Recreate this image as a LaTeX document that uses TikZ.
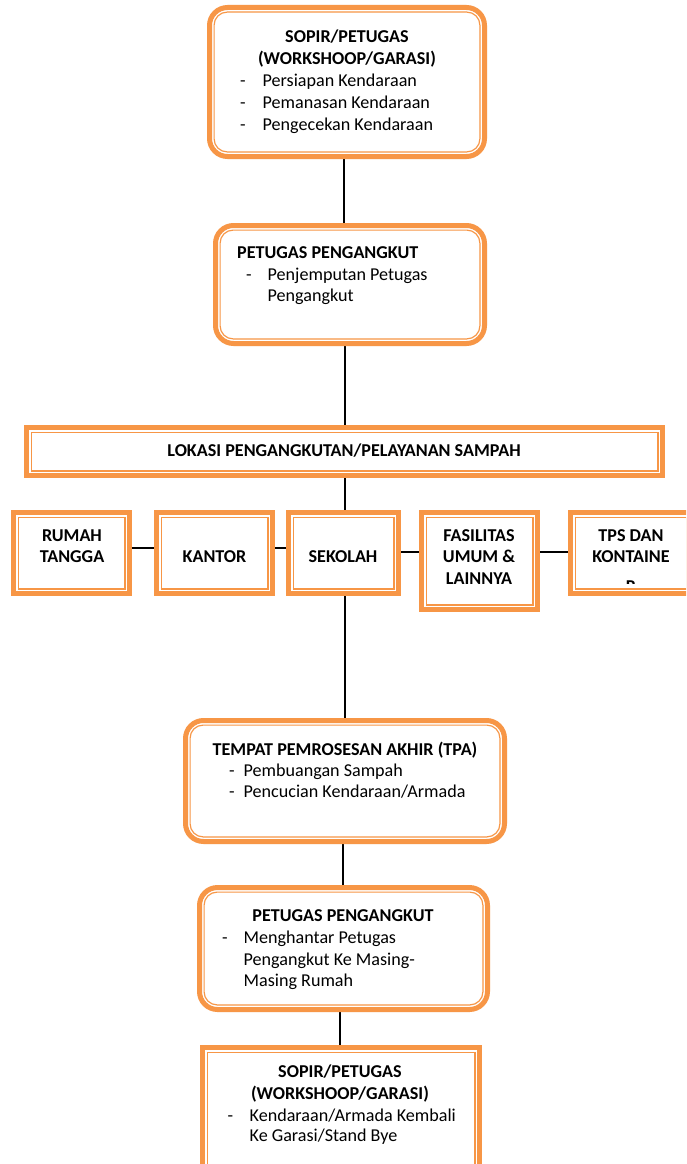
\documentclass[tikz,border=0pt]{standalone}
\usepackage{fontspec}
\setmainfont{Carlito}
\usetikzlibrary{calc,backgrounds}
\definecolor{orng}{HTML}{F79646}
\newcommand\dfont{\fontsize{18.1}{21.7}\selectfont}
\newcommand\inbox[2]{\draw[inl,#2] ($(#1.south west)+(4.6,-4.6)$) rectangle ($(#1.north east)+(-4.6,4.6)$);}
\begin{document}
\begin{tikzpicture}[x=1pt,y=-1pt,
  box/.style={draw=orng, line width=5pt, fill=white, inner sep=0pt, outer sep=0pt},
  rbox/.style={box, rounded corners=18pt},
  inl/.style={draw=orng, line width=1.2pt},
  conn/.style={draw=black, line width=2pt},
  txt/.style={inner sep=0pt, anchor=base west, font=\dfont},
  btxt/.style={inner sep=0pt, anchor=base west, font=\dfont\bfseries},
  ttl/.style={inner sep=0pt, anchor=base, font=\dfont\bfseries},
]
\useasboundingbox (0,0) rectangle (686,1164);
\clip (0,0) rectangle (686,1164);

% boxes
\node[rbox, minimum width=275pt, minimum height=149pt] (b1) at (347,82) {};
\inbox{b1}{rounded corners=13pt}
\node[rbox, minimum width=269pt, minimum height=118pt] (b2) at (350,284.5) {};
\inbox{b2}{rounded corners=13pt}
\node[box, minimum width=636pt, minimum height=48pt] (lok) at (344.5,451.5) {};
\inbox{lok}{sharp corners}
\node[box, minimum width=116pt, minimum height=81pt] (rum) at (71.5,553) {};
\inbox{rum}{sharp corners}
\node[box, minimum width=116pt, minimum height=81pt] (kan) at (214.5,553) {};
\inbox{kan}{sharp corners}
\node[box, minimum width=110pt, minimum height=81pt] (sek) at (343.5,553) {};
\inbox{sek}{sharp corners}
\node[box, minimum width=116pt, minimum height=97pt] (fas) at (479.5,561) {};
\inbox{fas}{sharp corners}
\node[box, minimum width=121pt, minimum height=81pt] (tps) at (631,553) {};
\inbox{tps}{sharp corners}
\node[rbox, minimum width=319pt, minimum height=121pt] (tpa) at (345,781) {};
\inbox{tpa}{rounded corners=13pt}
\node[rbox, minimum width=288pt, minimum height=122pt] (pp) at (343.5,948.5) {};
\inbox{pp}{rounded corners=13pt}
\node[box, minimum width=277pt, minimum height=130pt] (bot) at (341,1112.5) {};
\inbox{bot}{sharp corners}

% texts box 1
\node[ttl] (b1t) at (347,43) {SOPIR/PETUGAS};
\node[ttl] (b1u) at (347,64) {(WORKSHOOP/GARASI)};
\node[txt] (b1d1) at (240,86) {-};
\node[txt] (b1i1) at (262.5,86) {Persiapan Kendaraan};
\node[txt] (b1d2) at (240,108) {-};
\node[txt] (b1i2) at (262.5,108) {Pemanasan Kendaraan};
\node[txt] (b1d3) at (240,130) {-};
\node[txt] (b1i3) at (262.5,130) {Pengecekan Kendaraan};

% texts box 2
\node[btxt] (b2t) at (237,258) {PETUGAS PENGANGKUT};
\node[txt] (b2d1) at (246,280) {-};
\node[txt] (b2i1) at (267.5,280) {Penjemputan Petugas};
\node[txt] (b2i2) at (267.5,301.7) {Pengangkut};

% lokasi
\node[ttl] (lokt) at (344,456) {LOKASI PENGANGKUTAN/PELAYANAN SAMPAH};

% row
\node[ttl] (rumt1) at (72,541.7) {RUMAH};
\node[ttl] (rumt2) at (72,562.7) {TANGGA};
\node[ttl] (kant) at (214.5,562.7) {KANTOR};
\node[ttl] (sekt) at (343,562.7) {SEKOLAH};
\node[ttl] (fast1) at (479,541.7) {FASILITAS};
\node[ttl] (fast2) at (479,562.7) {UMUM \&};
\node[ttl] (fast3) at (479,584.5) {LAINNYA};
\node[ttl] (tpst1) at (631,541.7) {TPS DAN};
\node[ttl] (tpst2) at (631,562.7) {KONTAINE};
\begin{scope}
\clip (570,570) rectangle (690,583.5);
\node[ttl] (tpst3) at (631,592) {R};
\end{scope}

% tpa
\node[ttl] (tpat) at (345,755) {TEMPAT PEMROSESAN AKHIR (TPA)};
\node[txt] (tpad1) at (229,776) {-};
\node[txt] (tpai1) at (243.5,776) {Pembuangan Sampah};
\node[txt] (tpad2) at (229,797.7) {-};
\node[txt] (tpai2) at (243.5,797.7) {Pencucian Kendaraan/Armada};

% petugas 2
\node[ttl] (ppt) at (343,921.7) {PETUGAS PENGANGKUT};
\node[txt] (ppd1) at (222,943.5) {-};
\node[txt] (ppi1) at (243.5,943.5) {Menghantar Petugas};
\node[txt] (ppi2) at (243.5,965) {Pengangkut Ke Masing-};
\node[txt] (ppi3) at (243.5,986.7) {Masing Rumah};

% bottom
\node[ttl] (bott) at (340,1077.5) {SOPIR/PETUGAS};
\node[ttl] (botu) at (340,1099.3) {(WORKSHOOP/GARASI)};
\node[txt] (botd1) at (227.5,1121.3) {-};
\node[txt] (boti1) at (249.5,1121.3) {Kendaraan/Armada Kembali};
\node[txt] (boti2) at (249.5,1141.7) {Ke Garasi/Stand Bye};

% connectors
\coordinate (xa) at (344.3,0);
\coordinate (xb) at (345,0);
\coordinate (xc) at (343,0);
\coordinate (xd) at (340,0);
\coordinate (ya) at (0,548.3);
\coordinate (yb) at (0,552.3);
\begin{scope}[on background layer]
\fill[white] (0,0) rectangle (686,1164);
\draw[conn] (b1.south -| xa) -- (b2.north -| xa);
\draw[conn] (b2.south -| xb) -- (lok.north -| xb);
\draw[conn] (lok.south -| xb) -- (sek.north -| xb);
\draw[conn] (sek.south -| xb) -- (tpa.north -| xb);
\draw[conn] (tpa.south -| xc) -- (pp.north -| xc);
\draw[conn] (pp.south -| xd) -- (bot.north -| xd);
\draw[conn] (rum.east |- ya) -- (kan.west |- ya);
\draw[conn] (kan.east |- ya) -- (sek.west |- ya);
\draw[conn] (sek.east |- yb) -- (fas.west |- yb);
\draw[conn] (fas.east |- yb) -- (tps.west |- yb);
\end{scope}
\end{tikzpicture}
\end{document}
